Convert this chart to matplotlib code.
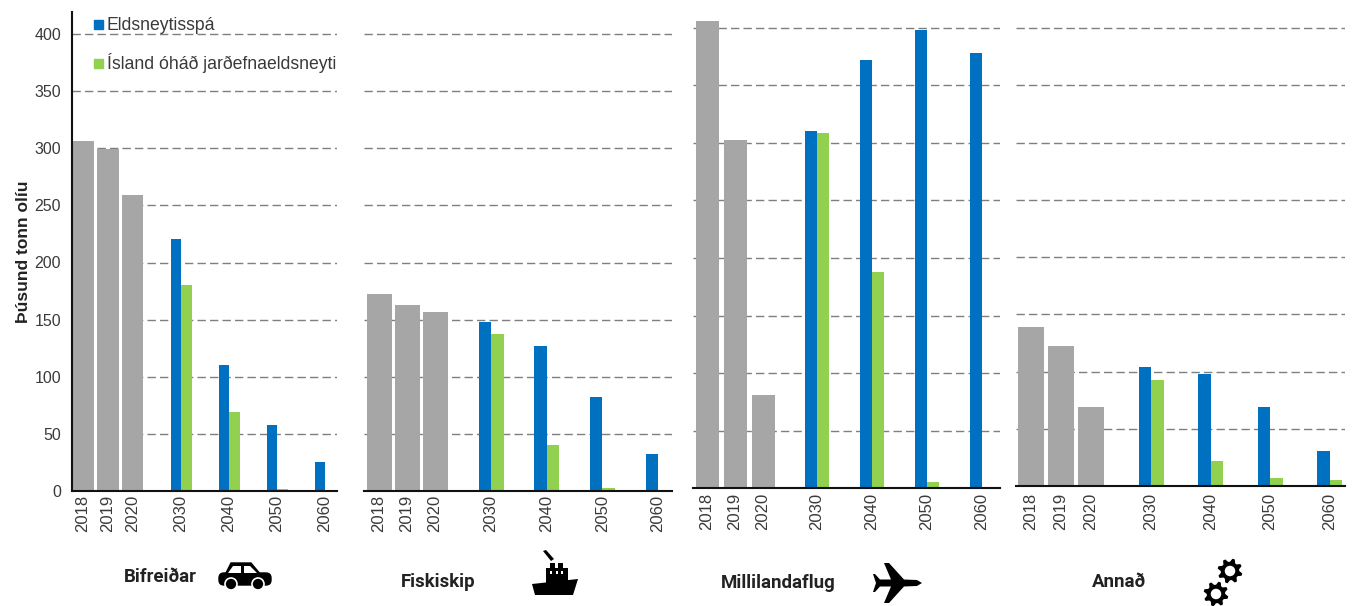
import numpy as np
import matplotlib
matplotlib.use("Agg")
import matplotlib.pyplot as plt
from matplotlib.patches import Polygon, Circle, Rectangle, FancyBboxPatch

W, H = 1352, 606
BLUE = "#0070C0"
GREEN = "#92D050"
GREY = "#A6A6A6"
TEXT = "#3A3A3A"

hist_years = ["2018", "2019", "2020"]
future_years = ["2030", "2040", "2050", "2060"]
y_ticks = [0, 50, 100, 150, 200, 250, 300, 350, 400]

names = ["Bifreiðar", "Fiskiskip", "Millilandaflug", "Annað"]

bifreidar_hist = [306, 299, 259]
bifreidar_forecast = [221, 110, 58, 25]
bifreidar_independent = [180, 69, 2, 0]

fiskiskip_hist = [172, 163, 157]
fiskiskip_forecast = [148, 127, 82, 32]
fiskiskip_independent = [137, 40, 3, 0]

flug_hist = [406, 303, 81]
flug_forecast = [310, 372, 398, 378]
flug_independent = [309, 188, 5, 0]

annad_hist = [139, 122, 69]
annad_forecast = [104, 98, 69, 31]
annad_independent = [93, 22, 7, 5]

hist = [bifreidar_hist, fiskiskip_hist, flug_hist, annad_hist]
forecast = [bifreidar_forecast, fiskiskip_forecast, flug_forecast, annad_forecast]
independent = [bifreidar_independent, fiskiskip_independent, flug_independent, annad_independent]

# layout of each panel in pixels of the figure:
# left, right, baseline, px per unit, first hist centre, hist step, hist width,
# first future centre, future step, future half width, year label pad
panels = [
    (72, 337, 491, 1.1425, 83, 24.8, 21.5, 181, 48, 10.5, 2.6),
    (364, 672, 491, 1.1425, 379, 28, 25, 491, 55.7, 12.5, 2.6),
    (693, 1000, 488, 1.15, 707, 28, 23, 817, 55, 12, 3.3),
    (1016, 1345, 486, 1.145, 1031, 30, 25.5, 1151, 59.5, 12.5, 4.8),
]
label_pos = [(160, 577), (438, 582), (778, 583), (1119, 582)]
TOP = 12

fig = plt.figure(figsize=(W / 100, H / 100), dpi=100)
plt.rcParams["font.family"] = ["Liberation Sans", "DejaVu Sans"]


def make_panel(i):
    left, right, base, scale, h0, hstep, hw, f0, fstep, fhw, pad = panels[i]
    ax = fig.add_axes([left / W, 1 - base / H, (right - left) / W, (base - TOP) / H])
    ax.set_xlim(left, right)
    ax.set_ylim(0, (base - TOP) / scale)
    hx = [h0 + hstep * k for k in range(len(hist_years))]
    fx = [f0 + fstep * k for k in range(len(future_years))]
    ax.bar(hx, hist[i], width=hw, color=GREY, zorder=2)
    ax.bar([x - fhw / 2 for x in fx], forecast[i], width=fhw, color=BLUE, zorder=2, label="Eldsneytisspá")
    ax.bar([x + fhw / 2 for x in fx], independent[i], width=fhw, color=GREEN, zorder=2,
           label="Ísland óháð jarðefnaeldsneyti")
    ax.set_yticks(y_ticks)
    ax.yaxis.grid(True, color="#7F7F7F", lw=1, dashes=(6, 3), zorder=1)
    ax.set_axisbelow(True)
    ax.set_xticks(hx + fx, hist_years + future_years, rotation=90, fontsize=12, color=TEXT)
    ax.tick_params(axis="x", length=0, pad=pad)
    for side in ["top", "right", "left"]:
        ax.spines[side].set_visible(False)
    ax.spines["bottom"].set_linewidth(1.5)
    ax.spines["bottom"].set_color("#111111")
    ax.spines["bottom"].set_zorder(4)
    if i == 0:
        ax.spines["left"].set_visible(True)
        ax.spines["left"].set_linewidth(1.5)
        ax.spines["left"].set_color("#111111")
        ax.spines["left"].set_zorder(4)
        ax.tick_params(axis="y", length=0, pad=8, labelsize=11.5, labelcolor=TEXT)
        ax.set_ylabel("Þúsund tonn olíu", fontsize=12.5, fontweight="bold", color="#222222")
        ax.yaxis.set_label_coords(-41 / (right - left), 0.5)
    else:
        ax.tick_params(axis="y", length=0, labelleft=False)
    ax.patch.set_alpha(0)
    return ax


axes = [make_panel(i) for i in range(4)]

# overlay in pixel coordinates for legend, names and icons
ov = fig.add_axes([0, 0, 1, 1], zorder=10)
ov.set_xlim(0, W)
ov.set_ylim(H, 0)
ov.axis("off")

ov.add_patch(Rectangle((94, 20), 9, 9, color=BLUE))
ov.text(107, 25, "Eldsneytisspá", fontsize=12.7, color=TEXT, va="center")
ov.add_patch(Rectangle((94, 59), 9, 9, color=GREEN))
ov.text(107, 63, "Ísland óháð jarðefnaeldsneyti", fontsize=12.7, color=TEXT, va="center")

for name, (x, y) in zip(names, label_pos):
    ov.text(x, y, name, family="Roboto", fontweight="bold", fontsize=13.4, color="#222222",
            ha="center", va="center")


def car():
    ov.add_patch(FancyBboxPatch((219, 573), 52, 12, boxstyle="round,pad=0,rounding_size=5", fc="k", ec="k"))
    ov.add_patch(Polygon([(225, 575), (231, 563), (251, 563), (261, 575)], fc="k", ec="k", lw=1))
    ov.add_patch(Polygon([(228, 573), (233, 566), (241, 566), (241, 573)], fc="w", ec="none"))
    ov.add_patch(Polygon([(244, 573), (244, 566), (250, 566), (257, 573)], fc="w", ec="none"))
    for cx in (231, 258):
        ov.add_patch(Circle((cx, 584), 6, fc="k", ec="w", lw=1.2))


def ship():
    ov.add_patch(Polygon([(532, 584), (578, 579), (573, 595), (535, 595)], fc="k", ec="none"))
    ov.add_patch(Rectangle((546, 568), 22, 15, fc="k", ec="none"))
    ov.add_patch(Rectangle((550, 563), 5, 7, fc="k", ec="none"))
    ov.add_patch(Rectangle((558, 563), 5, 7, fc="k", ec="none"))
    ov.add_patch(Polygon([(543, 551), (546, 550), (554, 559), (551, 561)], fc="k", ec="none"))
    for cx in (551, 556.5, 562):
        ov.add_patch(Rectangle((cx - 1, 571), 2, 3, fc="w", ec="none"))


def plane():
    pts = [(922, 583), (917, 580), (904, 579.5), (889, 563), (884, 563), (891, 579.5), (880, 579.5),
           (875, 574), (873, 574), (876, 583), (873, 592), (875, 592), (880, 586.5), (891, 586.5),
           (884, 603), (889, 603), (904, 586.5), (917, 586)]
    ov.add_patch(Polygon(pts, fc="k", ec="none"))


def gear(cx, cy, r, teeth=8):
    ang = np.linspace(0, 2 * np.pi, teeth * 4, endpoint=False) + np.pi / teeth / 2
    rad = np.tile([r, r, r * 0.74, r * 0.74], teeth)
    ov.add_patch(Polygon(np.c_[cx + rad * np.cos(ang), cy + rad * np.sin(ang)], fc="k", ec="none"))
    ov.add_patch(Circle((cx, cy), r * 0.42, fc="w", ec="none"))


car()
ship()
plane()
gear(1230, 571, 12.5)
gear(1216, 594, 12.5)

fig.savefig("out.png", dpi=100)
